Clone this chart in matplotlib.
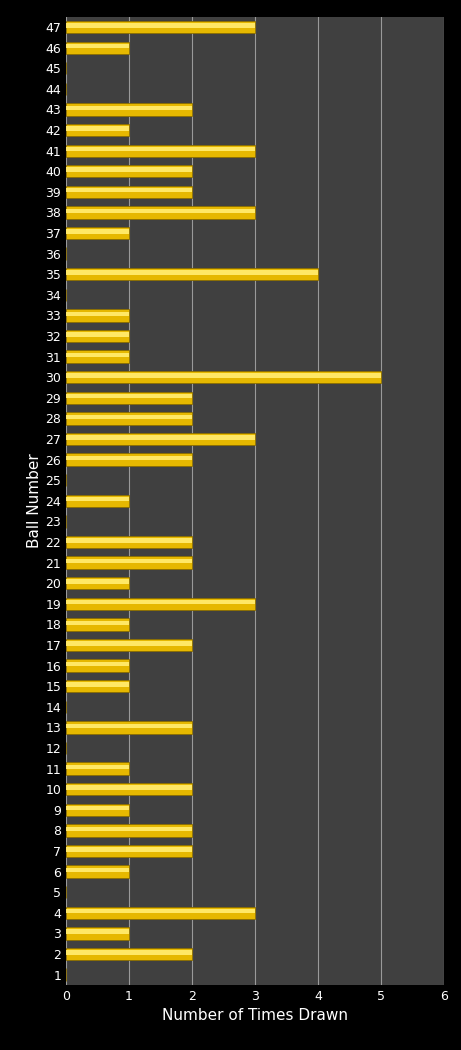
import matplotlib.pyplot as plt
import numpy as np

balls = list(range(1, 48))
counts = [0, 2, 1, 3, 0, 1, 2, 2, 1, 2,
          1, 0, 2, 0, 1, 1, 2, 1, 3, 1,
          2, 2, 0, 1, 0, 2, 3, 2, 2, 5,
          1, 1, 1, 0, 4, 0, 1, 3, 2, 2,
          3, 1, 2, 0, 0, 1, 3]

fig = plt.figure(figsize=(4.61, 10.5), dpi=100, facecolor='black')
ax = fig.add_axes([0.143, 0.062, 0.820, 0.922])
ax.set_facecolor('#404040')

y = np.array(balls)
ax.barh(y, counts, height=0.6, color='#e6b800', edgecolor='#8a6d00', linewidth=0.6, zorder=3)
# highlight stripe for the glossy look
ax.barh(y + 0.08, counts, height=0.22, color='#ffe866', linewidth=0, zorder=4)

ax.set_xlim(0, 6)
ax.set_ylim(0.5, 47.5)
ax.set_yticks(balls)
ax.set_yticklabels([str(b) for b in balls])
ax.set_xticks(range(7))
ax.grid(axis='x', color='#9a9a9a', linewidth=0.8, zorder=1)
ax.tick_params(colors='white', labelsize=9, length=0)
for s in ax.spines.values():
    s.set_visible(False)
ax.set_xlabel('Number of Times Drawn', color='white', fontsize=11)
ax.set_ylabel('Ball Number', color='white', fontsize=11, labelpad=2)

fig.savefig('out.png', facecolor='black')
